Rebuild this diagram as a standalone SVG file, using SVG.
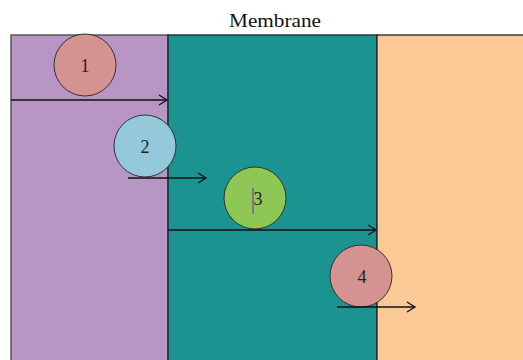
<svg xmlns="http://www.w3.org/2000/svg" width="523" height="360" viewBox="0 0 523 360">
<style>
.lbl{font-family:"Liberation Serif","DejaVu Serif",serif;font-size:18px;fill:#222;text-anchor:middle}
.ttl{font-family:"Liberation Serif","DejaVu Serif",serif;font-size:18px;fill:#111;text-anchor:middle}
.mol{stroke:#333;stroke-width:1}
.conn{stroke:#111;stroke-width:1.3;fill:none}
</style>
<defs>
<marker id="ah" markerWidth="12" markerHeight="12" refX="10" refY="6" orient="auto" markerUnits="userSpaceOnUse">
<path d="M2,1 L10,6 L2,11" fill="none" stroke="#111" stroke-width="1.3"/>
</marker>
</defs>
<rect width="523" height="360" fill="#fff"/>
<g id="regions">
<rect x="11" y="35" width="157" height="330" fill="#B795C4" stroke="#444" stroke-width="1.3"/>
<rect x="168" y="35" width="209" height="330" fill="#1A9391" stroke="#222" stroke-width="1.3"/>
<rect x="377" y="35" width="150" height="330" fill="#FBC995" stroke="#222" stroke-width="1.3"/>
</g>
<text class="ttl" x="275" y="27" textLength="92" lengthAdjust="spacingAndGlyphs">Membrane</text>
<g id="mol1"><circle class="mol" cx="85" cy="65" r="31" fill="#D49290"/><text class="lbl" x="85" y="72">1</text></g>
<g id="mol2"><circle class="mol" cx="145" cy="146" r="31" fill="#93C9D8"/><text class="lbl" x="145" y="153">2</text></g>
<g id="mol3"><circle class="mol" cx="255" cy="198" r="31" fill="#8FC755"/><text class="lbl" x="258" y="205">3</text><line x1="253" y1="188" x2="253" y2="214" stroke="#7B5A9A" stroke-width="1.5"/></g>
<g id="mol4"><circle class="mol" cx="361" cy="276" r="31" fill="#D49290"/><text class="lbl" x="362" y="283">4</text></g>
<g id="connectors">
<line class="conn" x1="11" y1="100" x2="167" y2="100" marker-end="url(#ah)"/>
<line class="conn" x1="128" y1="178" x2="206" y2="178" marker-end="url(#ah)"/>
<line class="conn" x1="168" y1="230" x2="376" y2="230" marker-end="url(#ah)"/>
<line class="conn" x1="337" y1="307" x2="415" y2="307" marker-end="url(#ah)"/>
</g>
</svg>
